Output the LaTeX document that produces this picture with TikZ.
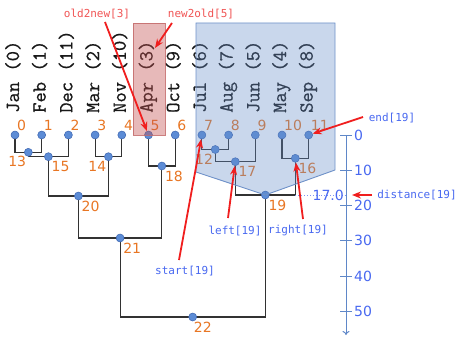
\documentclass[tikz,border=0pt]{standalone}
\usepackage{fontspec}
\setmainfont{DejaVu Sans}
\newfontfamily\smallmono{DejaVu Sans Mono}
\newfontfamily\leafmono[FakeBold=0.7]{Latin Modern Mono}
\usetikzlibrary{arrows.meta,calc}
\pgfdeclarelayer{bg}
\pgfsetlayers{bg,main}
\definecolor{orng}{RGB}{232,118,36}
\definecolor{dotfill}{RGB}{92,140,214}
\definecolor{dotedge}{RGB}{60,100,175}
\definecolor{lblue}{RGB}{72,104,240}
\definecolor{axcol}{RGB}{95,135,200}
\definecolor{polyfill}{RGB}{100,140,200}
\definecolor{polyedge}{RGB}{110,145,200}
\definecolor{rectfill}{RGB}{195,80,80}
\definecolor{rectedge}{RGB}{195,105,105}
\definecolor{arr}{RGB}{240,30,30}
\definecolor{redtxt}{RGB}{240,85,85}
\definecolor{treecol}{RGB}{50,50,50}
\begin{document}
\begin{tikzpicture}[x=1pt,y=-1pt,
  dot/.style={circle,fill=dotfill,draw=dotedge,line width=0.5pt,minimum size=8pt,inner sep=0pt},
  leaftxt/.style={rotate=90,anchor=base west,inner sep=0pt,font=\leafmono\fontsize{20}{20}\selectfont,text=black!90},
  num/.style={inner sep=0pt,font=\fontsize{14}{14}\selectfont,text=orng},
  numR/.style={num,anchor=base west},
  numL/.style={num,anchor=base east},
  tree/.style={draw=treecol,line width=1.1pt},
  ann/.style={inner sep=0pt,font=\smallmono\fontsize{11}{11}\selectfont,text=lblue},
  annred/.style={ann,text=redtxt},
  redarrow/.style={draw=arr,line width=1.8pt,-{Stealth[length=9pt,width=7pt]}},
  axlab/.style={inner sep=0pt,anchor=west,font=\fontsize{14}{14}\selectfont,text=lblue},
  axline/.style={draw=axcol,line width=1pt},
]
\useasboundingbox (0,0) rectangle (458,337);

% leaves
\node[dot] (l0) at (15.0,135) {};
\node[dot] (l1) at (41.7,135) {};
\node[dot] (l2) at (68.4,135) {};
\node[dot] (l3) at (95.1,135) {};
\node[dot] (l4) at (121.8,135) {};
\node[dot] (l5) at (148.5,135) {};
\node[dot] (l6) at (175.2,135) {};
\node[dot] (l7) at (201.9,135) {};
\node[dot] (l8) at (228.6,135) {};
\node[dot] (l9) at (255.3,135) {};
\node[dot] (l10) at (282.0,135) {};
\node[dot] (l11) at (308.7,135) {};

% internal nodes
\node[dot] (n12) at (215.25,149.5) {};
\node[dot] (n13) at (28.35,152.3) {};
\node[dot] (n14) at (108.45,156.7) {};
\node[dot] (n15) at (48.4,156.7) {};
\node[dot] (n16) at (295.35,158.3) {};
\node[dot] (n17) at (235.3,161.7) {};
\node[dot] (n18) at (161.85,166) {};
\node[dot] (n19) at (265.3,195) {};
\node[dot] (n20) at (78.4,196) {};
\node[dot] (n21) at (120.1,238) {};
\node[dot] (n22) at (192.7,317) {};

% axis coordinates
\coordinate (ax0) at (346,135);
\coordinate (axE) at (346,335);

\begin{pgfonlayer}{bg}
\draw[tree] (l0.center) |- (n13.center) -| (l1.center);
\draw[tree] (n13.center) |- (n15.center) -| (l2.center);
\draw[tree] (l3.center) |- (n14.center) -| (l4.center);
\draw[tree] (n15.center) |- (n20.center) -| (n14.center);
\draw[tree] (l5.center) |- (n18.center) -| (l6.center);
\draw[tree] (n20.center) |- (n21.center) -| (n18.center);
\draw[tree] (l7.center) |- (n12.center) -| (l8.center);
\draw[tree] (n12.center) |- (n17.center) -| (l9.center);
\draw[tree] (l10.center) |- (n16.center) -| (l11.center);
\draw[tree] (n17.center) |- (n19.center) -| (n16.center);
\draw[tree] (n21.center) |- (n22.center) -| (n19.center);
\draw[draw=lblue!70,line width=0.9pt,dotted] (n16.center |- n19.center) -- (ax0 |- n19.center);
\end{pgfonlayer}

% leaf names
\node[leaftxt] (t0) at ($(l0)+(4,-22)$) {Jan (0)};
\node[leaftxt] (t1) at ($(l1)+(4,-22)$) {Feb (1)};
\node[leaftxt] (t2) at ($(l2)+(4,-22)$) {Dec (11)};
\node[leaftxt] (t3) at ($(l3)+(4,-22)$) {Mar (2)};
\node[leaftxt] (t4) at ($(l4)+(4,-22)$) {Nov (10)};
\node[leaftxt] (t5) at ($(l5)+(4,-22)$) {Apr (3)};
\node[leaftxt] (t6) at ($(l6)+(4,-22)$) {Oct (9)};
\node[leaftxt] (t7) at ($(l7)+(4,-22)$) {Jul (6)};
\node[leaftxt] (t8) at ($(l8)+(4,-22)$) {Aug (7)};
\node[leaftxt] (t9) at ($(l9)+(4,-22)$) {Jun (5)};
\node[leaftxt] (t10) at ($(l10)+(4,-22)$) {May (4)};
\node[leaftxt] (t11) at ($(l11)+(4,-22)$) {Sep (8)};

% leaf numbers
\node[numR] (k0) at ($(l0)+(2,-5)$) {0};
\node[numR] (k1) at ($(l1)+(2,-5)$) {1};
\node[numR] (k2) at ($(l2)+(2,-5)$) {2};
\node[numR] (k3) at ($(l3)+(2,-5)$) {3};
\node[numR] (k4) at ($(l4)+(2,-5)$) {4};
\node[numR] (k5) at ($(l5)+(2,-5)$) {5};
\node[numR] (k6) at ($(l6)+(2,-5)$) {6};
\node[numR] (k7) at ($(l7)+(2,-5)$) {7};
\node[numR] (k8) at ($(l8)+(2,-5)$) {8};
\node[numR] (k9) at ($(l9)+(2,-5)$) {9};
\node[numR] (k10) at ($(l10)+(2,-5)$) {10};
\node[numR] (k11) at ($(l11)+(2,-5)$) {11};

% internal numbers
\node[numL] (k12) at ($(n12)+(-2,14.5)$) {12};
\node[numL] (k13) at ($(n13)+(-2,14.5)$) {13};
\node[numL] (k14) at ($(n14)+(-2,14.5)$) {14};
\node[numR] (k15) at ($(n15)+(3,15)$) {15};
\node[numR] (k16) at ($(n16)+(3,15)$) {16};
\node[numR] (k17) at ($(n17)+(3,15)$) {17};
\node[numR] (k18) at ($(n18)+(3,15)$) {18};
\node[numR] (k19) at ($(n19)+(3,15)$) {19};
\node[numR] (k20) at ($(n20)+(3,15)$) {20};
\node[numR] (k21) at ($(n21)+(3,15)$) {21};
\node[numR] (k22) at ($(n22)+(1,15)$) {22};

% highlight regions
\draw[fill=rectfill,fill opacity=0.4,draw=rectedge,draw opacity=0.85,line width=0.8pt] (133,23) rectangle (165,135);
\draw[fill=polyfill,fill opacity=0.35,draw=polyedge,line width=0.9pt] (196,23) -- (335,23) -- (335,170) -- (n19.center) -- (196,172) -- cycle;

% axis
\draw[axline,-{To[length=4pt,width=7pt]}] (ax0) -- (axE);
\foreach \v in {0,10,20,30,40,50}{
  \draw[axline] (340,{135+3.53*\v}) -- (352,{135+3.53*\v});
  \node[axlab] at (354,{135+3.53*\v}) {\v};
}
\node[axlab,anchor=east] (d17) at (344,195) {17.0};

% annotations
\node[annred] (aold) at (97,14) {old2new[3]};
\node[annred] (anew) at (201,14) {new2old[5]};
\node[ann] (aend) at (392,118) {end[19]};
\node[ann] (adist) at (417,195) {distance[19]};
\node[ann] (aleft) at (235,231) {left[19]};
\node[ann] (aright) at (298,231) {right[19]};
\node[ann] (astart) at (185,271) {start[19]};

\coordinate (s1) at (105,22);
\coordinate (s2) at (172,23);
\coordinate (e2) at (155,48);
\coordinate (s3) at (363,117);
\coordinate (s4) at (372,195);
\coordinate (e4) at (352,195);
\coordinate (s5) at (228,218);
\coordinate (s6) at (303,219);
\coordinate (s7) at (179,260);

\draw[redarrow] (s1) -- (l5);
\draw[redarrow] (s2) -- (e2);
\draw[redarrow] (s3) -- (l11);
\draw[redarrow] (s4) -- (e4);
\draw[redarrow] (s5) -- (n17);
\draw[redarrow] (s6) -- (n16);
\draw[redarrow] (s7) -- (l7);
\end{tikzpicture}
\end{document}
